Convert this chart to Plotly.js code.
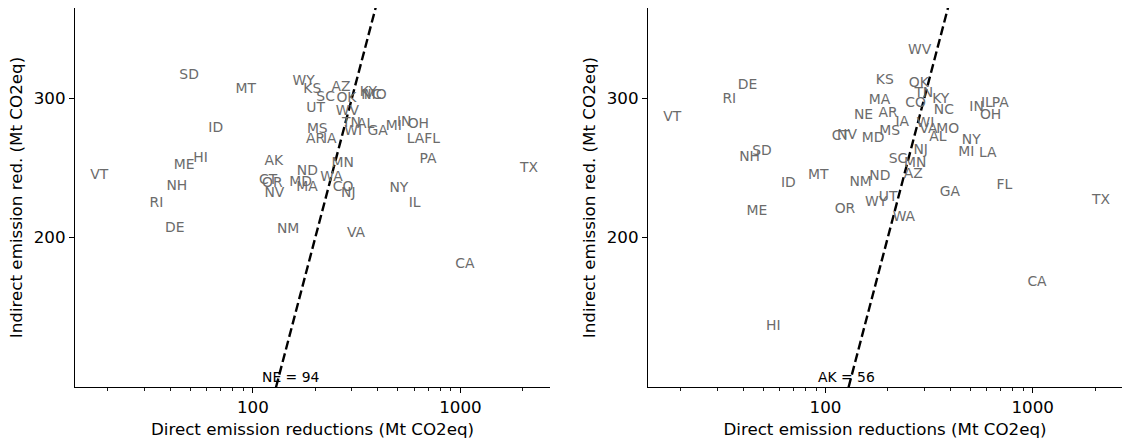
<!DOCTYPE html>
<html>
<head>
<meta charset="utf-8">
<script src="https://cdn.plot.ly/plotly-3.0.1.min.js"></script>
<style>
  html, body { margin: 0; padding: 0; background: #fff; }
  #chart { width: 1122px; height: 442px; }
</style>
</head>
<body>
<div id="chart"></div>
<script>
// ---- data ----
const states = ["AL","AK","AZ","AR","CA","CO","CT","DE","FL","GA",
                "HI","ID","IL","IN","IA","KS","KY","LA","ME","MD",
                "MA","MI","MN","MS","MO","MT","NE","NV","NH","NJ",
                "NM","NY","NC","ND","OH","OK","OR","PA","RI","SC",
                "SD","TN","TX","UT","VT","VA","WA","WV","WI","WY"];

// Direct emission reductions (Mt CO2eq), shared by both panels
const directRed = [349, 126, 265.6, 200.6, 1049.5, 272, 118.5, 42, 730.8, 398.9,
                   56, 66.2, 601.7, 536, 234.6, 193.3, 360.2, 607.3, 46.6, 169.8,
                   182.2, 478, 271.1, 204.3, 388.7, 92.3, 152.6, 126.9, 43, 288.1,
                   147.8, 505, 372.4, 183, 626.8, 282.2, 124.1, 698, 34.3, 224,
                   49.3, 298.3, 2140, 200.6, 18.2, 314.1, 239, 284.9, 304, 175.5];

// Indirect emission reductions, left panel
const indirectLeft = [277.5, 249.3, 309.0, 265.7, 184.9, 231.4, 235.9, 205.3, 265.7, 272.1,
                      251.8, 274.9, 220.8, 279.4, 265.7, 307.4, 305.0, 265.7, 246.4, 234.6,
                      231.4, 276.2, 247.7, 273.5, 302.3, 307.4, 94, 227.4, 231.8, 227.4,
                      204.3, 230.7, 302.3, 242.2, 277.5, 299.5, 233.7, 250.6, 220.8, 300.6,
                      320.4, 278.9, 244.1, 290.6, 239.4, 202.3, 238.3, 288.1, 272.1, 315.0];

// Indirect emission reductions, right panel
const indirectRight = [267.8, 56, 239.9, 287.2, 175.4, 295.1, 268.3, 311.0, 232.5, 227.8,
                       154.4, 234.1, 295.6, 292.2, 279.7, 315.8, 298.5, 255.0, 215.5, 267.0,
                       297.7, 256.0, 247.7, 272.1, 274.0, 239.4, 284.9, 269.3, 252.6, 257.5,
                       234.6, 265.2, 289.3, 238.7, 284.9, 313.4, 216.6, 295.6, 299.1, 250.6,
                       256.7, 304.4, 222.3, 224.8, 283.8, 274.0, 212.0, 344.6, 278.9, 221.5];

const xTickVals = [100, 1000];
const xTickText = ["100", "1000"];
const xMinorTicks = [20, 30, 40, 50, 60, 70, 80, 90, 200, 300, 400, 500, 600, 700, 800, 900, 2000];
const yTickVals = [200, 300];
const yTickText = ["200", "300"];
const identityLine = [100, 1000];

const xTitle = "Direct emission reductions (Mt CO2eq)";
const yTitle = "Indirect emission red. (Mt CO2eq)";

// ---- styling / layout ----
const yMin = 129.3, yMax = 390;
const xMin = 13.9, xMax = 2700;
const FONT = "DejaVu Sans";
const labelColor = "#6b6b6b";

function panelTraces(indirect, xa, ya) {
  const xs = [], ys = [], ts = [];
  indirect.forEach((v, i) => {
    if (v >= yMin) { xs.push(directRed[i]); ys.push(v); ts.push(states[i]); }
  });
  return [
    {
      type: "scatter", mode: "lines", x: identityLine, y: identityLine,
      xaxis: xa, yaxis: ya, hoverinfo: "skip",
      line: { color: "black", width: 2.4, dash: "9px,4px" }
    },
    {
      type: "scatter", mode: "text", x: xs, y: ys, text: ts,
      xaxis: xa, yaxis: ya, cliponaxis: false,
      textposition: "middle center",
      textfont: { family: FONT, size: 13.9, color: labelColor }
    }
  ];
}

function outlierAnnotations(indirect, xref, yref) {
  const out = [];
  indirect.forEach((v, i) => {
    if (v < yMin) {
      out.push({
        text: states[i] + " = " + Math.round(v),
        x: Math.log10(directRed[i]), xref: xref,
        y: 0, yref: yref + " domain", yanchor: "bottom", xanchor: "center",
        showarrow: false, borderpad: 0, yshift: 1,
        font: { family: FONT, size: 13.9, color: "black" }
      });
    }
  });
  return out;
}

function xAxis(domain, anchor) {
  return {
    domain: domain, anchor: anchor, type: "log",
    range: [Math.log10(xMin), Math.log10(xMax)],
    tickmode: "array", tickvals: xTickVals, ticktext: xTickText,
    ticks: "outside", ticklen: 5, tickwidth: 1.1, tickcolor: "black",
    minor: { tickmode: "array", tickvals: xMinorTicks, ticks: "outside", ticklen: 3, tickwidth: 0.9, tickcolor: "black", showgrid: false },
    showline: true, linecolor: "black", linewidth: 1.1,
    showgrid: false, zeroline: false,
    tickfont: { family: FONT, size: 16.7, color: "black" },
    title: { text: xTitle, font: { family: FONT, size: 16.7, color: "black" }, standoff: 7 },
    automargin: false
  };
}
function yAxis(anchor) {
  return {
    anchor: anchor, type: "log",
    range: [Math.log10(yMin), Math.log10(yMax)],
    tickmode: "array", tickvals: yTickVals, ticktext: yTickText,
    ticks: "outside", ticklen: 5, tickwidth: 1.1, tickcolor: "black",
    showline: true, linecolor: "black", linewidth: 1.1,
    showgrid: false, zeroline: false,
    tickfont: { family: FONT, size: 16.7, color: "black" },
    title: { text: yTitle, font: { family: FONT, size: 16.7, color: "black" }, standoff: 6 },
    automargin: false
  };
}

const data = [].concat(
  panelTraces(indirectLeft, "x", "y"),
  panelTraces(indirectRight, "x2", "y2")
);

const layout = {
  width: 1122, height: 442,
  margin: { l: 0, r: 0, t: 8, b: 55 },
  paper_bgcolor: "white", plot_bgcolor: "white",
  showlegend: false,
  font: { family: FONT, size: 16.7, color: "black" },
  xaxis: xAxis([75 / 1122, 550 / 1122], "y"),
  yaxis: yAxis("x"),
  xaxis2: xAxis([648 / 1122, 1], "y2"),
  yaxis2: yAxis("x2"),
  annotations: [].concat(
    outlierAnnotations(indirectLeft, "x", "y"),
    outlierAnnotations(indirectRight, "x2", "y2")
  )
};

Plotly.newPlot("chart", data, layout, { displayModeBar: false, staticPlot: true });
</script>
</body>
</html>
